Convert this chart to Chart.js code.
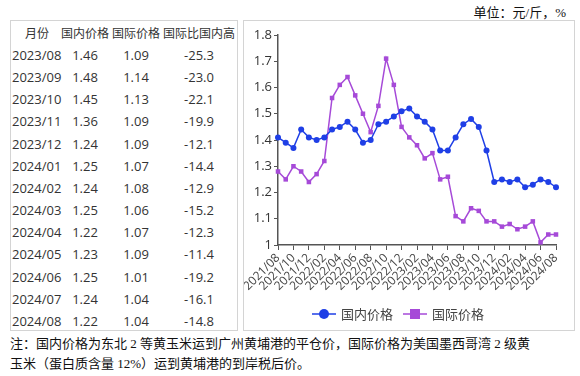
<!DOCTYPE html>
<html>
<head>
<meta charset="utf-8">
<script src="https://cdn.jsdelivr.net/npm/chart.js@4.4.1/dist/chart.umd.min.js"></script>
<style>
  body { margin: 0; background: #fff; width: 580px; height: 376px; position: relative; overflow: hidden; }
  .box { position: absolute; border: 1px solid #d4d4d4; box-sizing: border-box; background: #fff; }
  #tableBox { left: 10px; top: 20px; width: 228px; height: 311px; }
  #chartBox { left: 243px; top: 20px; width: 332px; height: 311px; }
  #chartBox canvas { position: absolute; left: 0; top: 0; }
  .cell { position: absolute; font-family: "Open Sans", "Noto Sans CJK SC", sans-serif; font-size: 13px; color: #333; white-space: nowrap; line-height: 16px; }
  .head { font-family: "Noto Sans CJK SC", sans-serif; font-size: 12px; }
  .serif { position: absolute; font-family: "Liberation Serif", "Noto Sans CJK SC", serif; font-size: 13px; color: #111; white-space: nowrap; }
</style>
</head>
<body>
<div class="serif" id="unit" style="right:14px; top:2px;">单位：元/斤，%</div>
<div class="box" id="tableBox"></div>
<div class="box" id="chartBox"><canvas id="priceChart" width="330" height="309"></canvas></div>
<div class="serif" style="left:10px; top:334px; line-height:20px;">注：国内价格为东北 2 等黄玉米运到广州黄埔港的平仓价，国际价格为美国墨西哥湾 2 级黄<br>玉米（蛋白质含量 12%）运到黄埔港的到岸税后价。</div>

<script>
// table data
const tableHeaders = ['月份', '国内价格', '国际价格', '国际比国内高'];
const tableMonths = ['2023/08', '2023/09', '2023/10', '2023/11', '2023/12', '2024/01', '2024/02',
    '2024/03', '2024/04', '2024/05', '2024/06', '2024/07', '2024/08'];
const tableDomestic = ['1.46', '1.48', '1.45', '1.36', '1.24', '1.25', '1.24', '1.25', '1.22', '1.23', '1.25', '1.24', '1.22'];
const tableIntl = ['1.09', '1.14', '1.13', '1.09', '1.09', '1.07', '1.08', '1.06', '1.07', '1.09', '1.01', '1.04', '1.04'];
const tableGap = ['-25.3', '-23.0', '-22.1', '-19.9', '-12.1', '-14.4', '-12.9', '-15.2', '-12.3', '-11.4', '-19.2', '-16.1', '-14.8'];

// chart data
const months = ['2021/08', '2021/09', '2021/10', '2021/11', '2021/12',
    '2022/01', '2022/02', '2022/03', '2022/04', '2022/05', '2022/06', '2022/07', '2022/08', '2022/09', '2022/10', '2022/11', '2022/12',
    '2023/01', '2023/02', '2023/03', '2023/04', '2023/05', '2023/06', '2023/07', '2023/08', '2023/09', '2023/10', '2023/11', '2023/12',
    '2024/01', '2024/02', '2024/03', '2024/04', '2024/05', '2024/06', '2024/07', '2024/08'];
const domesticPrice = [1.41, 1.39, 1.37, 1.44, 1.41,
    1.40, 1.41, 1.44, 1.45, 1.47, 1.44, 1.39, 1.40, 1.46, 1.47, 1.49, 1.51,
    1.52, 1.49, 1.47, 1.44, 1.36, 1.36, 1.41, 1.46, 1.48, 1.45, 1.36, 1.24,
    1.25, 1.24, 1.25, 1.22, 1.23, 1.25, 1.24, 1.22];
const intlPrice = [1.28, 1.25, 1.30, 1.28, 1.24,
    1.27, 1.32, 1.56, 1.61, 1.64, 1.57, 1.50, 1.43, 1.53, 1.71, 1.61, 1.45,
    1.41, 1.38, 1.33, 1.35, 1.25, 1.26, 1.11, 1.09, 1.14, 1.13, 1.09, 1.09,
    1.07, 1.08, 1.06, 1.07, 1.09, 1.01, 1.04, 1.04];

const blue = '#1f3fe6';
const purple = '#a64ad8';

// build the table
const tableBox = document.getElementById('tableBox');
const colCenters = [26, 74, 125, 188];
function addCell(text, x, y, cls, align) {
    const d = document.createElement('div');
    d.className = 'cell ' + (cls || '');
    d.textContent = text;
    d.style.top = (y - 8) + 'px';
    d.style.left = x + 'px';
    if (align !== 'left') {
        d.style.transform = 'translateX(-50%)';
    }
    tableBox.appendChild(d);
}
tableHeaders.forEach((h, i) => addCell(h, colCenters[i], 12, 'head'));
tableMonths.forEach((m, r) => {
    const y = 34 + r * 22.15;
    addCell(m, 1, y, '', 'left');
    addCell(tableDomestic[r], colCenters[1], y);
    addCell(tableIntl[r], colCenters[2], y);
    addCell(tableGap[r], colCenters[3], y);
});

// legend with line through the marker
const lineLegend = {
    id: 'lineLegend',
    afterDraw(chart) {
        const ctx = chart.ctx;
        const items = [
            { text: '国内价格', color: blue, shape: 'circle', x: 80 },
            { text: '国际价格', color: purple, shape: 'rect', x: 171 }
        ];
        const y = 293;
        ctx.save();
        items.forEach(it => {
            ctx.strokeStyle = it.color;
            ctx.lineWidth = 1.5;
            ctx.beginPath();
            ctx.moveTo(it.x - 12, y);
            ctx.lineTo(it.x + 12, y);
            ctx.stroke();
            ctx.fillStyle = it.color;
            ctx.beginPath();
            if (it.shape === 'circle') {
                ctx.arc(it.x, y, 5, 0, Math.PI * 2);
            } else {
                ctx.rect(it.x - 5, y - 5, 10, 10);
            }
            ctx.fill();
            ctx.fillStyle = '#444';
            ctx.font = '13px "Noto Sans CJK SC"';
            ctx.textBaseline = 'middle';
            ctx.fillText(it.text, it.x + 17, y);
        });
        ctx.restore();
    }
};

const tickColor = (c) => (c.index % 2 === 0 ? '#555' : 'rgba(0,0,0,0)');

new Chart(document.getElementById('priceChart'), {
    type: 'line',
    data: {
        labels: months,
        datasets: [{
            label: '国内价格',
            data: domesticPrice,
            borderColor: blue,
            backgroundColor: blue,
            borderWidth: 1.5,
            pointStyle: 'circle',
            pointRadius: 3,
            pointBorderWidth: 0,
            tension: 0
        }, {
            label: '国际价格',
            data: intlPrice,
            borderColor: purple,
            backgroundColor: purple,
            borderWidth: 1.5,
            pointStyle: 'rect',
            pointRadius: 3.2,
            pointBorderWidth: 0,
            tension: 0
        }]
    },
    options: {
        responsive: false,
        animation: false,
        layout: { padding: { top: 14, right: 18, bottom: 30, left: 0 } },
        plugins: {
            legend: { display: false },
            tooltip: { enabled: false }
        },
        scales: {
            x: {
                grid: { drawOnChartArea: false, drawTicks: true, tickLength: 5, color: tickColor },
                border: { color: '#555', width: 1.5 },
                ticks: {
                    autoSkip: false,
                    minRotation: 45,
                    maxRotation: 45,
                    padding: 1,
                    color: '#444',
                    font: { family: 'Open Sans', size: 12 },
                    callback: (v, i) => (i % 2 === 0 ? months[i] : '')
                },
                afterFit: (s) => { s.height = 55; }
            },
            y: {
                min: 1,
                max: 1.8,
                grid: { drawOnChartArea: false, drawTicks: true, tickLength: 4, color: '#555' },
                border: { color: '#555', width: 1.5 },
                ticks: {
                    stepSize: 0.1,
                    padding: 2,
                    color: '#333',
                    font: { family: 'Open Sans', size: 13 },
                    callback: (v) => String(Number(v.toFixed(1)))
                },
                afterFit: (s) => { s.width = 34; }
            }
        }
    },
    plugins: [lineLegend]
});
</script>
</body>
</html>
